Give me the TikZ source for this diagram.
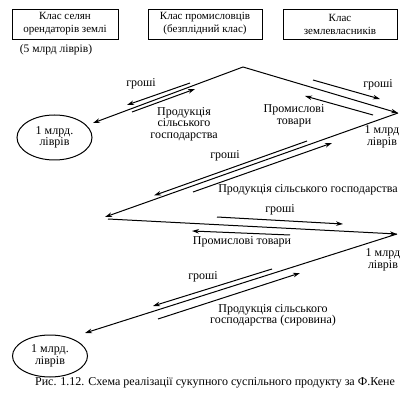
\documentclass[tikz,border=0pt]{standalone}
\usepackage{fontspec}
\setmainfont{Liberation Serif}
\usetikzlibrary{arrows.meta,shapes.geometric}
\begin{document}
\begin{tikzpicture}[x=1pt,y=-1pt,
  txt/.style={font=\fontsize{12}{11.5}\selectfont,inner sep=0pt,align=center},
  classbox/.style={draw,line width=0.6pt,minimum height=30pt,align=center,
    font=\fontsize{11}{13}\selectfont,inner sep=1pt},
  money/.style={draw,ellipse,line width=1pt,minimum width=75pt,align=center,
    font=\fontsize{12}{9.5}\selectfont,inner sep=0pt},
  mainln/.style={line width=1pt,-{Stealth[length=7pt,width=4.5pt]}},
  flow/.style={line width=1pt,-{Stealth[length=7pt,width=4.5pt]}}]
\useasboundingbox (0,0) rectangle (410,401);

% class boxes
\node[classbox,minimum width=106pt] (K1) at (65,24) {Клас селян\\орендаторів землі};
\node[classbox,minimum width=114pt] (K2) at (205,24) {Клас промисловців\\(безплідний клас)};
\node[classbox,minimum width=114pt] (K3) at (340,24) {Клас\\землевласників};
\node[txt,font=\fontsize{11.5}{12}\selectfont] (five) at (56,50) {(5 млрд ліврів)};

% money ellipses
\node[money,minimum height=45pt] (E1) at (54.5,137.5) {1 млрд.\\ліврів};
\node[money,minimum height=42pt] (E2) at (50,356) {1 млрд.\\ліврів};

% main polyline points
\coordinate (A) at (243,67);
\coordinate (T1) at (93,123);
\coordinate (R1) at (398,113);
\coordinate (L1) at (105,217);
\coordinate (L1b) at (108,219);
\coordinate (R2) at (397,234);
\coordinate (T2) at (85,333);

\draw[mainln] (A) -- (T1);
\draw[mainln] (A) -- (R1);
\draw[mainln] (R1) -- (L1);
\draw[mainln] (L1b) -- (R2);
\draw[mainln] (R2) -- (T2);

% small flow arrows
\coordinate (a1s) at (190,83);  \coordinate (a1e) at (127,105);
\coordinate (a2s) at (132,112); \coordinate (a2e) at (195,89);
\coordinate (b1s) at (313,80);  \coordinate (b1e) at (380,99);
\coordinate (b2s) at (373,115); \coordinate (b2e) at (305,96);
\coordinate (c1s) at (307,141); \coordinate (c1e) at (154,195.5);
\coordinate (c2s) at (193,192); \coordinate (c2e) at (332,143);
\coordinate (d1s) at (217,217); \coordinate (d1e) at (343,224);
\coordinate (d2s) at (290,235); \coordinate (d2e) at (192,231);
\coordinate (e1s) at (272,269); \coordinate (e1e) at (153,306);
\coordinate (e2s) at (158,319); \coordinate (e2e) at (300,273);

\draw[flow] (a1s) -- (a1e);
\draw[flow] (a2s) -- (a2e);
\draw[flow] (b1s) -- (b1e);
\draw[flow] (b2s) -- (b2e);
\draw[flow] (c1s) -- (c1e);
\draw[flow] (c2s) -- (c2e);
\draw[flow] (d1s) -- (d1e);
\draw[flow] (d2s) -- (d2e);
\draw[flow] (e1s) -- (e1e);
\draw[flow] (e2s) -- (e2e);

% labels
\node[txt] (g1) at (141,84) {гроші};
\node[txt] (p1) at (184,124) {Продукція\\сільського\\господарства};
\node[txt] (g2) at (378,85) {гроші};
\node[txt] (m1) at (294,116) {Промислові\\товари};
\node[txt,font=\fontsize{12}{9.5}\selectfont] (r1) at (382,137) {1 млрд\\ліврів};
\node[txt] (g3) at (225,156) {гроші};
\node[txt] (p3) at (308,190) {Продукція сільського господарства};
\node[txt] (g4) at (280,210) {гроші};
\node[txt] (m4) at (242,242) {Промислові товари};
\node[txt,font=\fontsize{12}{9.5}\selectfont] (r2) at (383,260) {1 млрд\\ліврів};
\node[txt] (g5) at (203,277) {гроші};
\node[txt,font=\fontsize{12}{11}\selectfont] (p5) at (273,315) {Продукція сільського\\господарства (сировина)};

\node[txt] (cap) at (215,383) {Рис. 1.12. Схема реалізації сукупного суспільного продукту за Ф.Кене};
\end{tikzpicture}
\end{document}
